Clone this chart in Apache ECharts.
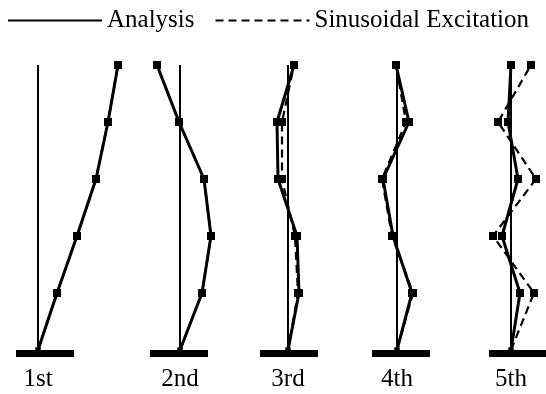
<!DOCTYPE html>
<html>
<head>
<meta charset="utf-8">
<script src="https://cdn.jsdelivr.net/npm/echarts@6/dist/echarts.min.js"></script>
<style>
html,body{margin:0;padding:0;background:#fff;}
#chart{width:546px;height:394px;}
</style>
</head>
<body>
<div id="chart"></div>
<script>
// floor levels (0 = ground)
var floors = [0, 1, 2, 3, 4, 5];
var modeLabels = ['1st', '2nd', '3rd', '4th', '5th'];
// lateral displacement per floor
var analysis1 = [0, 19, 39, 58, 70, 80];
var analysis2 = [0, 22, 31, 24, -1, -23];
var analysis3 = [0, 11, 9, -10, -11, 6];
var analysis4 = [0, 15, -4, -14, 12, -1];
var analysis5 = [0, 9, -9, 7, -3, 0];
var excitation1 = [0, 19, 39, 58, 70, 80];
var excitation2 = [0, 22, 31, 24, -1, -23];
var excitation3 = [0, 10, 7, -6, -6, 6];
var excitation4 = [0, 16, -5, -15, 9, -1];
var excitation5 = [0, 23, -18, 25, -13, 20];
var analysisSets = [analysis1, analysis2, analysis3, analysis4, analysis5];
var excitationSets = [excitation1, excitation2, excitation3, excitation4, excitation5];

// layout
var baseX = [38, 180, 288, 397, 511];
var axisMin = -35;
var axisMax = [90, 35, 35, 35, 35];
var groundLeft = [22, 30, 28, 25, 22];
var groundWidth = 58;
var FONT = '"Liberation Serif", "Times New Roman", serif';
var gridTop = 65, gridBottomY = 350;

var grids = [], xAxes = [], yAxes = [], series = [], graphics = [];
function pairs(vals) {
  return vals.map(function (v, i) { return [v, floors[i]]; });
}
function symSize(val, params) { return params.dataIndex === 0 ? 5 : 8; }

for (var i = 0; i < 5; i++) {
  grids.push({ left: baseX[i] + axisMin, width: axisMax[i] - axisMin, top: gridTop, height: gridBottomY - gridTop });
  xAxes.push({ gridIndex: i, type: 'value', min: axisMin, max: axisMax[i], show: false });
  yAxes.push({ gridIndex: i, type: 'value', min: 0, max: 5, show: false });
  series.push({
    name: 'Sinusoidal Excitation', type: 'line', xAxisIndex: i, yAxisIndex: i,
    data: pairs(excitationSets[i]), symbol: 'rect', symbolSize: symSize,
    lineStyle: { color: '#000', width: 2.2, type: [8, 5] },
    itemStyle: { color: '#000' }, z: 2, animation: false
  });
  series.push({
    name: 'Analysis', type: 'line', xAxisIndex: i, yAxisIndex: i,
    data: pairs(analysisSets[i]), symbol: 'rect', symbolSize: symSize,
    lineStyle: { color: '#000', width: 3 },
    itemStyle: { color: '#000' }, z: 3, animation: false,
    markLine: {
      silent: true, symbol: 'none', animation: false,
      label: { show: false },
      lineStyle: { color: '#000', width: 2, type: 'solid' },
      data: [{ xAxis: 0 }]
    }
  });
  graphics.push({
    type: 'rect', shape: { x: baseX[i] - groundLeft[i], y: gridBottomY, width: groundWidth, height: 7 },
    style: { fill: '#000' }, z: 10
  });
  graphics.push({
    type: 'text', x: baseX[i], y: 379,
    style: { text: modeLabels[i], font: '25px ' + FONT, fill: '#000', textAlign: 'center', textVerticalAlign: 'middle' }
  });
}

var chart = echarts.init(document.getElementById('chart'), null, { renderer: 'canvas' });
chart.setOption({
  backgroundColor: '#fff',
  animation: false,
  legend: {
    left: 7, top: 8, padding: 0, itemWidth: 94, itemHeight: 14, itemGap: 20,
    selectedMode: false,
    itemStyle: { opacity: 0 },
    lineStyle: { width: 2 },
    textStyle: { fontFamily: FONT, fontSize: 25, color: '#000' },
    data: ['Analysis', 'Sinusoidal Excitation']
  },
  grid: grids, xAxis: xAxes, yAxis: yAxes, series: series,
  graphic: graphics
});
</script>
</body>
</html>
